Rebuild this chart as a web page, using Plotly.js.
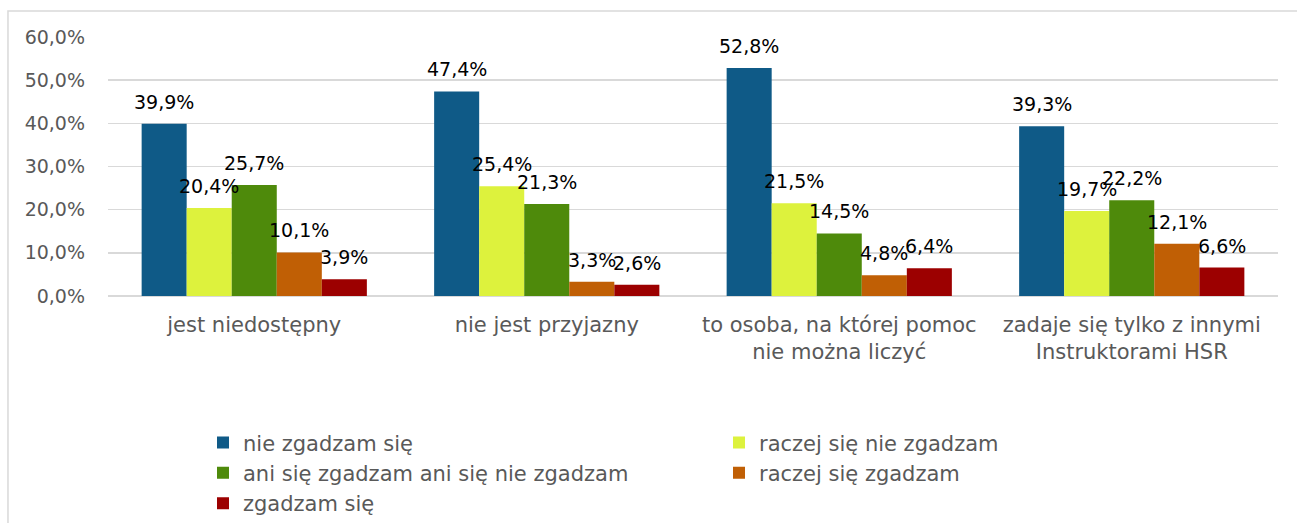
<!DOCTYPE html>
<html><head><meta charset="utf-8">
<script src="https://cdn.plot.ly/plotly-3.0.1.min.js"></script>
<style>html,body{margin:0;padding:0;background:#fff;}#chart{width:1297px;height:523px;}</style>
</head><body><div id="chart"></div>
<script>
const categories = ["jest niedostępny", "nie jest przyjazny", "to osoba, na której pomoc<br>nie można liczyć", "zadaje się tylko z innymi<br>Instruktorami HSR"];
const seriesNames = ["nie zgadzam się", "raczej się nie zgadzam", "ani się zgadzam ani się nie zgadzam", "raczej się zgadzam", "zgadzam się"];
const nieZgadzam = [39.9, 47.4, 52.8, 39.3];
const raczejNie = [20.4, 25.4, 21.5, 19.7];
const ani = [25.7, 21.3, 14.5, 22.2];
const raczejTak = [10.1, 3.3, 4.8, 12.1];
const zgadzam = [3.9, 2.6, 6.4, 6.6];
const colors = ["#0F5A87", "#DDF23D", "#4E8A0B", "#C05F05", "#9C0000"];
const tickVals = [0, 10, 20, 30, 40, 50, 60];
const tickText = ["0,0%", "10,0%", "20,0%", "30,0%", "40,0%", "50,0%", "60,0%"];

const FONT = 'DejaVu Sans, sans-serif';
const allSeries = [nieZgadzam, raczejNie, ani, raczejTak, zgadzam];
const fmt = v => v.toFixed(1).replace('.', ',') + '%';
const BARGAP = 0.23;
const nS = allSeries.length;
const barW = (1 - BARGAP) / nS;

const traces = allSeries.map((vals, i) => ({
  type: 'bar', name: seriesNames[i], x: categories.map((c, k) => k), y: vals,
  marker: {color: colors[i]},
  hoverinfo: 'y'
}));

const annotations = [];
allSeries.forEach((vals, j) => {
  vals.forEach((v, k) => {
    annotations.push({
      x: k + (j - (nS - 1) / 2) * barW, y: v, xref: 'x', yref: 'y',
      text: fmt(v), showarrow: false, yanchor: 'bottom', xanchor: 'center', yshift: 9,
      font: {family: FONT, size: 19, color: '#000'}
    });
  });
});

const layout = {
  width: 1297, height: 523,
  margin: {l: 108, r: 19, t: 37, b: 227, autoexpand: false},
  paper_bgcolor: '#fff', plot_bgcolor: '#fff',
  barmode: 'group', bargap: BARGAP, bargroupgap: 0,
  font: {family: FONT, size: 21, color: '#595959'},
  xaxis: {type: 'linear', range: [-0.5, categories.length - 0.5], tickvals: categories.map((c, k) => k), ticktext: categories,
          showgrid: false, showline: false, zeroline: false, ticks: '', tickfont: {size: 21, color: '#595959'}, ticklabelstandoff: 14,
          automargin: false},
  yaxis: {range: [0, 60], tickvals: tickVals, ticktext: tickText, showgrid: true, gridcolor: '#d9d9d9', gridwidth: 1.5,
          zeroline: true, zerolinecolor: '#d9d9d9', zerolinewidth: 1.5, ticks: '', ticklabelstandoff: 22,
          tickfont: {size: 19, color: '#595959'}, automargin: false},
  showlegend: true,
  legend: {orientation: 'h', x: 0.0812, xanchor: 'left', y: -0.488, yanchor: 'top', entrywidth: 471, traceorder: 'normal',
           font: {size: 21, color: '#595959'}, itemwidth: 30, tracegroupgap: 0},
  annotations: annotations,
  shapes: [{type: 'rect', xref: 'paper', yref: 'paper', x0: -0.0855, x1: 1.1, y0: -1.2, y1: 1.1004,
            line: {color: '#d9d9d9', width: 1.5}, fillcolor: 'rgba(0,0,0,0)', layer: 'below'}]
};
Plotly.newPlot('chart', traces, layout, {displayModeBar: false, staticPlot: true});
</script></body></html>
